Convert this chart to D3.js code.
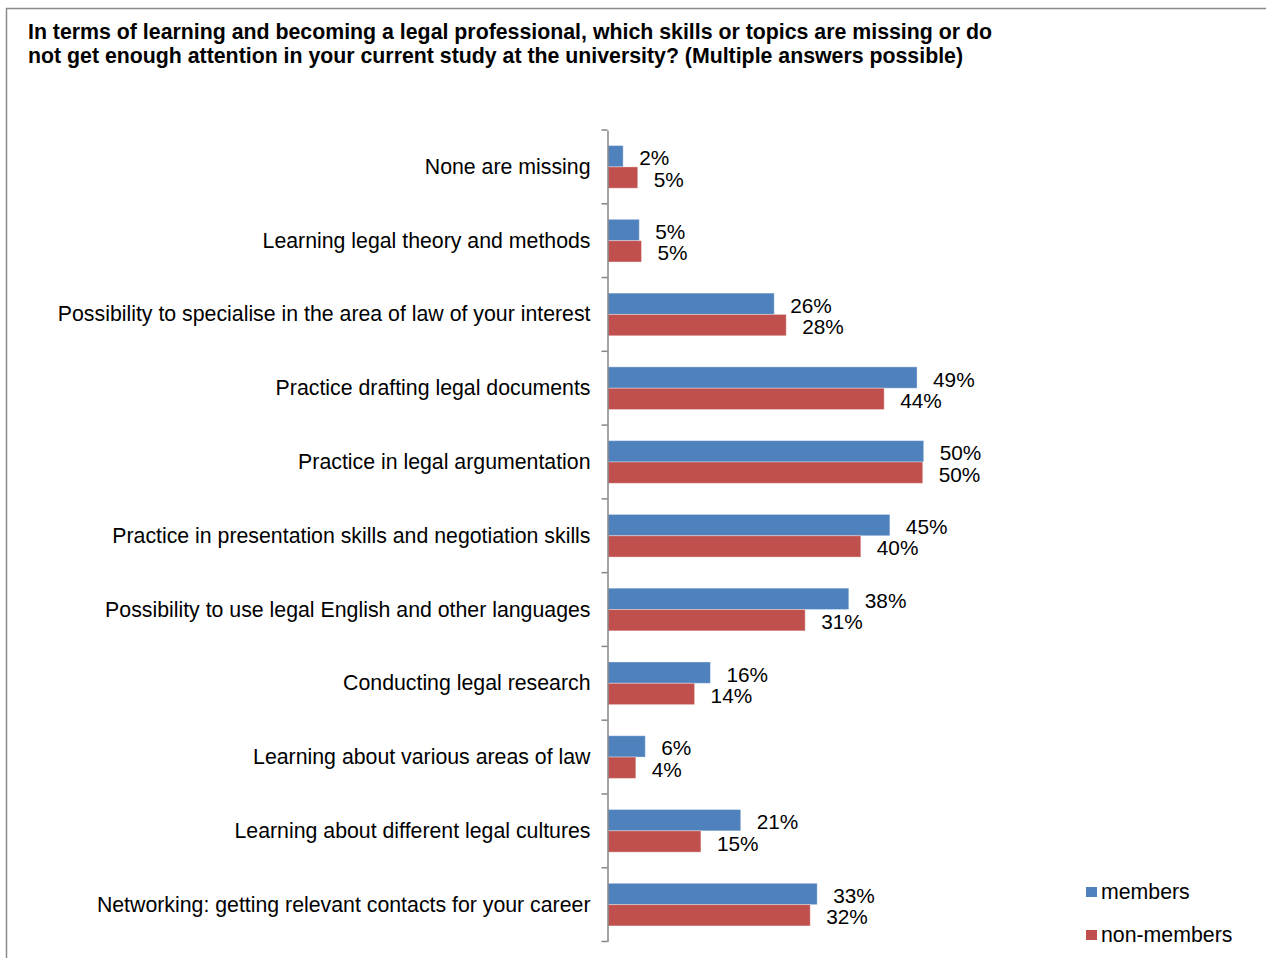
<!DOCTYPE html>
<html>
<head>
<meta charset="utf-8">
<script src="https://cdn.jsdelivr.net/npm/d3@7"></script>
<style>
  html, body { margin: 0; padding: 0; background: #fff; }
  svg { display: block; }
  text { font-family: Arial, "Liberation Sans", Helvetica, sans-serif; fill: #000; }
</style>
</head>
<body>
<svg id="chart" width="1266" height="958"></svg>
<script>
// ---- data ----
const titleLines = [
  "In terms of learning and becoming a legal professional, which skills or topics are missing or do",
  "not get enough attention in your current study at the university? (Multiple answers possible)"
];
const categories = [
  "None are missing",
  "Learning legal theory and methods",
  "Possibility to specialise in the area of law of your interest",
  "Practice drafting legal documents",
  "Practice in legal argumentation",
  "Practice in presentation skills and negotiation skills",
  "Possibility to use legal English and other languages",
  "Conducting legal research",
  "Learning about various areas of law",
  "Learning about different legal cultures",
  "Networking: getting relevant contacts for your career"
];
const seriesNames = ["members", "non-members"];
const members    = [2.4, 4.95, 26.3, 48.9, 49.95, 44.6, 38.1, 16.2, 5.9, 21.0, 33.1];
const nonMembers = [4.7, 5.3, 28.2, 43.7, 49.8, 40.0, 31.2, 13.7, 4.4, 14.7, 32.0];
const seriesColors = ["#4F81BD", "#C0504D"];

// ---- layout ----
const svg = d3.select("#chart");
const axisX = 608;

// outer border
svg.append("path")
  .attr("d", "M6.5,958 L6.5,8.5 L1266,8.5")
  .attr("fill", "none").attr("stroke", "#8a8a8a").attr("stroke-width", 1.5);

// title
svg.append("g").selectAll("text").data(titleLines).join("text")
  .attr("x", 28).attr("y", (d, i) => 38.5 + i * 24)
  .attr("font-size", 21.2).attr("font-weight", "bold")
  .attr("textLength", (d, i) => i === 0 ? 964 : 935)
  .attr("lengthAdjust", "spacingAndGlyphs")
  .text(d => d);

const x = d3.scaleLinear().domain([0, 60]).range([axisX, axisX + 60 * 6.32]);
const y0 = d3.scaleBand().domain(categories).range([130, 941.5]).padding(0);
const y1 = d3.scaleBand().domain(seriesNames).range([0, y0.step()]).paddingInner(0).paddingOuter(0.73);

const data = categories.map((c, i) => ({ cat: c, vals: [members[i], nonMembers[i]] }));

const groups = svg.append("g").selectAll("g").data(data).join("g")
  .attr("transform", d => `translate(0,${y0(d.cat)})`);

groups.selectAll("rect").data(d => d.vals.map((v, j) => ({ v, s: seriesNames[j], j }))).join("rect")
  .attr("x", axisX)
  .attr("y", d => y1(d.s))
  .attr("width", d => x(d.v) - axisX)
  .attr("height", y1.bandwidth())
  .attr("fill", d => seriesColors[d.j])
  .attr("stroke", "rgba(255,255,255,0.35)").attr("stroke-width", 1);

groups.selectAll("text.val").data(d => d.vals.map((v, j) => ({ v, s: seriesNames[j] }))).join("text")
  .attr("class", "val")
  .attr("x", d => x(d.v) + 16)
  .attr("y", d => y1(d.s) + y1.bandwidth() / 2 + 9)
  .attr("font-size", 20.8)
  .text(d => Math.round(d.v) + "%");

// y axis
const yAxis = d3.axisLeft(y0).tickSize(0).tickPadding(17).tickSizeOuter(0);
const ag = svg.append("g").attr("transform", `translate(${axisX - 0.5},0)`).call(yAxis);
ag.select(".domain").attr("stroke", "#868686").attr("stroke-width", 1.5);
ag.selectAll(".tick text").attr("font-size", 21.3).attr("fill", "#000")
  .attr("font-family", "Arial, 'Liberation Sans', sans-serif")
  .attr("dy", null).attr("y", 7);
// boundary ticks
const bounds = d3.range(categories.length + 1).map(i => 130 + i * y0.step());
ag.selectAll("line.bt").data(bounds).join("line").attr("class", "bt")
  .attr("x1", -6).attr("x2", 0).attr("y1", d => d).attr("y2", d => d)
  .attr("stroke", "#868686").attr("stroke-width", 1.5);

// legend
const leg = svg.append("g").selectAll("g").data(seriesNames).join("g")
  .attr("transform", (d, i) => `translate(1086,${887 + i * 43})`);
leg.append("rect").attr("width", 11).attr("height", 10).attr("fill", (d, i) => seriesColors[i]);
leg.append("text").attr("x", 15).attr("y", 12).attr("font-size", 21.3).text(d => d);
</script>
</body>
</html>
